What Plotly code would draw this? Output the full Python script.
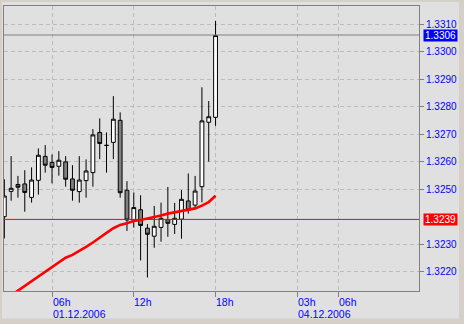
import plotly.graph_objects as go

# ---------------- data (30-minute bars, Friday 01.12.2006) ----------------
times = ["02:30", "03:00", "03:30", "04:00", "04:30", "05:00", "05:30", "06:00",
         "06:30", "07:00", "07:30", "08:00", "08:30", "09:00", "09:30", "10:00",
         "10:30", "11:00", "11:30", "12:00", "12:30", "13:00", "13:30", "14:00",
         "14:30", "15:00", "15:30", "16:00", "16:30", "17:00", "17:30", "18:00"]
opens = [1.32400, 1.32492, 1.32517, 1.32519, 1.32470, 1.32532, 1.32619, 1.32597,
         1.32583, 1.32599, 1.32537, 1.32491, 1.32531, 1.32560, 1.32706, 1.32659,
         1.32670, 1.32750, 1.32496, 1.32387, 1.32425, 1.32358, 1.32329, 1.32361,
         1.32389, 1.32372, 1.32391, 1.32457, 1.32442, 1.32509, 1.32743, 1.32761]
highs = [1.32536, 1.32620, 1.32548, 1.32569, 1.32579, 1.32648, 1.32660, 1.32626,
         1.32638, 1.32620, 1.32587, 1.32620, 1.32608, 1.32718, 1.32757, 1.32706,
         1.32838, 1.32779, 1.32529, 1.32488, 1.32478, 1.32373, 1.32439, 1.32451,
         1.32508, 1.32450, 1.32497, 1.32557, 1.32548, 1.32870, 1.32820, 1.33111]
lows = [1.32321, 1.32458, 1.32469, 1.32418, 1.32451, 1.32480, 1.32560, 1.32521,
        1.32549, 1.32509, 1.32458, 1.32451, 1.32469, 1.32509, 1.32609, 1.32560,
        1.32609, 1.32469, 1.32348, 1.32360, 1.32241, 1.32179, 1.32287, 1.32309,
        1.32327, 1.32337, 1.32320, 1.32411, 1.32427, 1.32452, 1.32600, 1.32730]
closes = [1.32475, 1.32503, 1.32507, 1.32488, 1.32533, 1.32623, 1.32587, 1.32579,
          1.32605, 1.32536, 1.32496, 1.32533, 1.32566, 1.32697, 1.32666, 1.32659,
          1.32754, 1.32487, 1.32388, 1.32433, 1.32368, 1.32336, 1.32365, 1.32394,
          1.32376, 1.32394, 1.32463, 1.32424, 1.32493, 1.32748, 1.32763, 1.33058]
moving_avg = [1.32097, 1.32114, 1.32132, 1.32149, 1.32166, 1.32184, 1.32202, 1.32218,
              1.32234, 1.32251, 1.32261, 1.32274, 1.32290, 1.32306, 1.32322, 1.32341,
              1.32358, 1.32370, 1.32376, 1.32384, 1.32388, 1.32393, 1.32399, 1.32404,
              1.32411, 1.32416, 1.32420, 1.32425, 1.32430, 1.32440, 1.32453, 1.32476]

# time axis ticks: (day, hour, label)
x_ticks = [("fri", 6, "06h"), ("fri", 12, "12h"), ("fri", 18, "18h"),
           ("mon", 3, "03h"), ("mon", 6, "06h")]
date_labels = [("fri", 6, "01.12.2006"), ("mon", 3, "04.12.2006")]
y_ticks = [1.3220, 1.3230, 1.3250, 1.3260, 1.3270, 1.3280, 1.3290, 1.3300, 1.3310]
level_line = 1.3239
last_price = 1.3306
x_range_hours = (2.476, 32.93)
y_range = (1.321299, 1.331654)

WEEKEND_SHIFT = 21  # Friday 21:00 continues directly into Monday 00:00


def pos(day, hour):
    return hour if day == "fri" else WEEKEND_SHIFT + hour


def t2h(t):
    h, m = t.split(":")
    return int(h) + int(m) / 60.0


xpos = [pos("fri", t2h(t)) for t in times]

# ---------------- layout geometry ----------------
W, H = 464, 324
L, R, T, B = 4, 45, 6, 33
PW, PH = W - L - R, H - T - B


def px_x(p):
    return (p - L) / PW


def px_y(p):
    return (H - B - p) / PH


FONT = "Liberation Sans, Arial, sans-serif"
BLUE = "#0000ff"

fig = go.Figure()

fig.add_trace(go.Candlestick(
    x=xpos, open=opens, high=highs, low=lows, close=closes,
    increasing=dict(fillcolor="#ffffff", line=dict(color="#000000", width=1)),
    decreasing=dict(fillcolor="#808080", line=dict(color="#000000", width=1)),
    whiskerwidth=0, hoverinfo="skip", showlegend=False,
))

fig.add_trace(go.Scatter(
    x=xpos, y=moving_avg, mode="lines",
    line=dict(color="#ff0000", width=2.6),
    hoverinfo="skip", showlegend=False,
))

shapes = [
    # inner panel
    dict(type="rect", xref="paper", yref="paper",
         x0=px_x(2), x1=px_x(459), y0=px_y(318.5), y1=px_y(2),
         fillcolor="#e0e0e0", line=dict(width=0), layer="below"),
    dict(type="line", xref="paper", yref="y", x0=0, x1=1,
         y0=last_price, y1=last_price, line=dict(color="#808080", width=1)),
    dict(type="line", xref="paper", yref="y", x0=0, x1=1,
         y0=level_line, y1=level_line, line=dict(color="#ff0000", width=1)),
]

annotations = []
for day, hr, lab in x_ticks:
    annotations.append(dict(
        x=pos(day, hr), xref="x", y=0, yref="paper", yanchor="middle",
        xanchor="left", xshift=-1.5, yshift=-11, text=lab, showarrow=False,
        font=dict(family=FONT, size=10.5, color=BLUE)))
for day, hr, lab in date_labels:
    annotations.append(dict(
        x=pos(day, hr), xref="x", y=0, yref="paper", yanchor="middle",
        xanchor="left", xshift=-1.5, yshift=-22.5, text=lab, showarrow=False,
        font=dict(family=FONT, size=10.5, color=BLUE)))
annotations.append(dict(
    x=1, xref="paper", xanchor="left", xshift=3.5, y=last_price, yref="y",
    yanchor="middle", text=f"{last_price:.4f}", showarrow=False,
    bgcolor="#0000ff", width=33, height=11, borderpad=0,
    font=dict(family=FONT, size=10, color="#ffffff")))
annotations.append(dict(
    x=1, xref="paper", xanchor="left", xshift=3.5, y=level_line, yref="y",
    yanchor="middle", text=f"{level_line:.4f}", showarrow=False,
    bgcolor="#ff0000", width=33, height=11, borderpad=0,
    font=dict(family=FONT, size=10, color="#ffffff")))

grid = "#bcbcbc"
fig.update_layout(
    width=W, height=H,
    margin=dict(l=L, r=R, t=T, b=B, pad=0),
    paper_bgcolor="#d4d0c8", plot_bgcolor="#e0e0e0",
    boxgap=0.44, boxgroupgap=0,
    shapes=shapes, annotations=annotations,
    font=dict(family=FONT, size=10, color=BLUE),
    xaxis=dict(
        range=list(x_range_hours), rangeslider=dict(visible=False),
        tickmode="array", tickvals=[pos(d, h) for d, h, _ in x_ticks],
        showticklabels=False, ticks="outside", ticklen=5, tickcolor="#808080",
        showgrid=True, gridcolor=grid, griddash="4px,3px", gridwidth=1,
        showline=True, linecolor="#808080", linewidth=1, mirror=True,
        zeroline=False, fixedrange=True,
    ),
    yaxis=dict(
        range=list(y_range), side="right",
        tickmode="array", tickvals=y_ticks, ticktext=[f"{v:.4f}" for v in y_ticks],
        ticks="outside", ticklen=4, tickcolor="#808080",
        tickfont=dict(family=FONT, size=10, color=BLUE),
        showgrid=True, gridcolor=grid, griddash="4px,3px", gridwidth=1,
        showline=True, linecolor="#808080", linewidth=1, mirror=True,
        zeroline=False, fixedrange=True,
    ),
    showlegend=False,
)

fig.write_html("out.html", config=dict(displayModeBar=False))
